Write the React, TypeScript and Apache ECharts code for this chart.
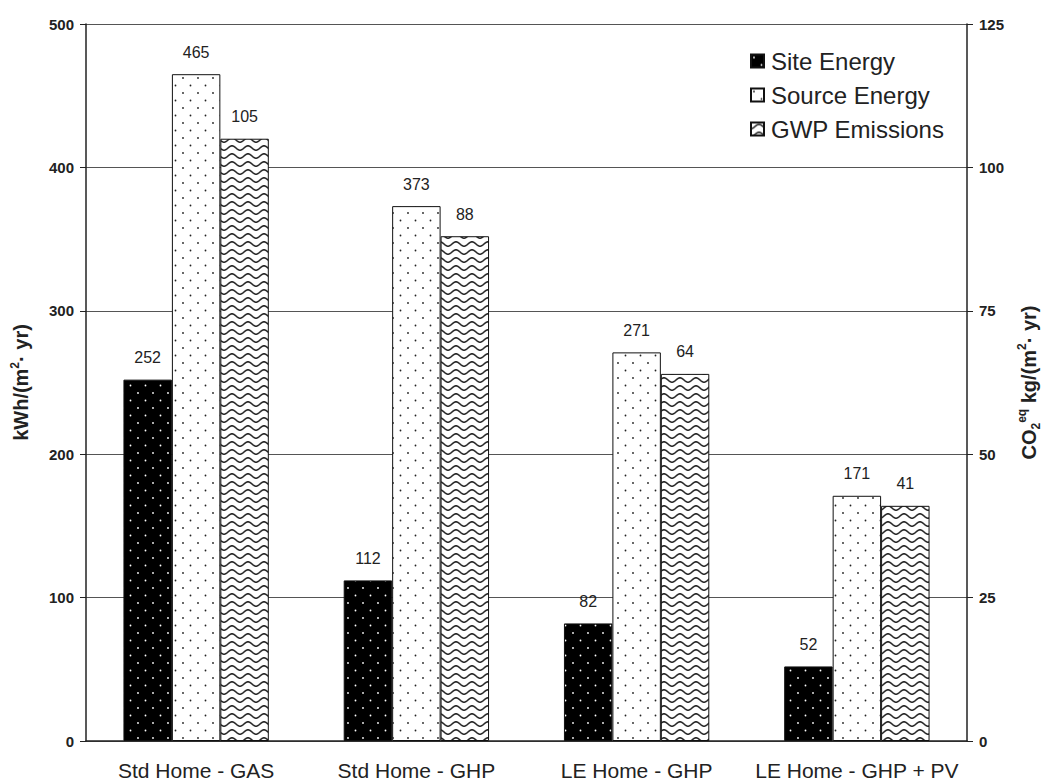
import React, { useEffect, useRef } from "react";
import * as echarts from "echarts";

const categories = ["Std Home - GAS", "Std Home - GHP", "LE Home - GHP", "LE Home - GHP + PV"];
const siteEnergy = [252, 112, 82, 52];
const sourceEnergy = [465, 373, 271, 171];
const gwpEmissions = [105, 88, 64, 41];
const leftTicks = { min: 0, max: 500, interval: 100 };
const rightTicks = { min: 0, max: 125, interval: 25 };

function dotPattern(bg: string, dot: string): string {
  const c = document.createElement("canvas");
  c.width = 15;
  c.height = 15;
  const ctx = c.getContext("2d")!;
  ctx.fillStyle = bg;
  ctx.fillRect(0, 0, 15, 15);
  ctx.fillStyle = dot;
  ctx.beginPath();
  ctx.arc(3, 3, 0.9, 0, Math.PI * 2);
  ctx.fill();
  ctx.beginPath();
  ctx.arc(10.5, 10.5, 0.9, 0, Math.PI * 2);
  ctx.fill();
  return c.toDataURL();
}

function wavePattern(): string {
  const w = 16;
  const h = 8;
  const c = document.createElement("canvas");
  c.width = w;
  c.height = h;
  const ctx = c.getContext("2d")!;
  ctx.fillStyle = "#fff";
  ctx.fillRect(0, 0, w, h);
  ctx.strokeStyle = "#2a2a2a";
  ctx.lineWidth = 1.6;
  ctx.beginPath();
  for (let x = -1; x <= w + 1; x += 0.5) {
    const y = 4 + 2.2 * Math.cos((x / w) * Math.PI * 2);
    if (x === -1) ctx.moveTo(x, y);
    else ctx.lineTo(x, y);
  }
  ctx.stroke();
  return c.toDataURL();
}

export default function App() {
  const ref = useRef<HTMLDivElement>(null);
  useEffect(() => {
    if (!ref.current) return;
    const chart = echarts.init(ref.current, null, { renderer: "svg" });
    const font = "Liberation Sans";
    const sitePat = { image: dotPattern("#000", "#fff"), repeat: "repeat" };
    const srcPat = { image: dotPattern("#fff", "#222"), repeat: "repeat" };
    const gwpPat = { image: wavePattern(), repeat: "repeat" };
    const label = {
      show: true,
      position: "top",
      distance: 14,
      fontFamily: font,
      fontSize: 16,
      color: "#222",
    };
    const itemBorder = { borderColor: "#111", borderWidth: 1 };
    chart.setOption({
      animation: false,
      backgroundColor: "#fff",
      textStyle: { fontFamily: font },
      grid: { left: 86, right: 76, top: 24, bottom: 40, containLabel: false },
      legend: {
        left: 745,
        top: 44,
        orient: "vertical",
        itemWidth: 13,
        itemHeight: 13,
        itemGap: 10,
        icon: "rect",
        textStyle: { fontFamily: font, fontSize: 24, color: "#222", padding: [0, 0, 0, 2] },
        data: ["Site Energy", "Source Energy", "GWP Emissions"],
      },
      xAxis: {
        type: "category",
        data: categories,
        axisLine: { lineStyle: { color: "#222", width: 1.5 } },
        axisTick: { show: false },
        axisLabel: { fontFamily: font, fontSize: 21, color: "#222", margin: 19, interval: 0, hideOverlap: false },
      },
      yAxis: [
        {
          type: "value",
          ...leftTicks,
          name: "kWh/(m{p|2}· yr)",
          nameLocation: "middle",
          nameRotate: 90,
          nameGap: 53,
          nameTextStyle: {
            fontFamily: font,
            fontSize: 20,
            fontWeight: "bold",
            color: "#222",
            rich: { p: { fontSize: 12, fontWeight: "bold", verticalAlign: "top", lineHeight: 24, color: "#222" } },
          },
          axisLine: { show: true, lineStyle: { color: "#222", width: 1.5 } },
          axisTick: { show: true, length: 6, lineStyle: { color: "#222" } },
          axisLabel: { fontFamily: font, fontSize: 15, fontWeight: "bold", color: "#222", margin: 12 },
          splitLine: { show: true, lineStyle: { color: "#555", width: 1 } },
        },
        {
          type: "value",
          ...rightTicks,
          name: "CO{s|2}{p|eq} kg/(m{p|2}· yr)",
          nameLocation: "middle",
          nameRotate: 90,
          nameGap: 49,
          nameTextStyle: {
            fontFamily: font,
            fontSize: 20,
            fontWeight: "bold",
            color: "#222",
            rich: {
              p: { fontSize: 12, fontWeight: "bold", verticalAlign: "top", lineHeight: 26, color: "#222" },
              s: { fontSize: 12, fontWeight: "bold", verticalAlign: "bottom", lineHeight: 26, color: "#222" },
            },
          },
          axisLine: { show: true, lineStyle: { color: "#222", width: 1.5 } },
          axisTick: { show: true, length: 6, lineStyle: { color: "#222" } },
          axisLabel: { fontFamily: font, fontSize: 15, fontWeight: "bold", color: "#222", margin: 12 },
          splitLine: { show: false },
        },
      ],
      series: [
        {
          name: "Site Energy",
          type: "bar",
          yAxisIndex: 0,
          data: siteEnergy,
          barGap: "0%",
          barCategoryGap: "34%",
          itemStyle: { color: sitePat, ...itemBorder },
          label,
        },
        {
          name: "Source Energy",
          type: "bar",
          yAxisIndex: 0,
          data: sourceEnergy,
          barGap: "0%",
          barCategoryGap: "34%",
          itemStyle: { color: srcPat, ...itemBorder },
          label,
        },
        {
          name: "GWP Emissions",
          type: "bar",
          yAxisIndex: 1,
          data: gwpEmissions,
          barGap: "0%",
          barCategoryGap: "34%",
          itemStyle: { color: gwpPat, ...itemBorder },
          label,
        },
      ],
    });
    return () => chart.dispose();
  }, []);
  return (
    <div
      ref={ref}
      style={{ position: "fixed", left: 0, top: 0, width: 1050, height: 781, background: "#fff" }}
    />
  );
}
